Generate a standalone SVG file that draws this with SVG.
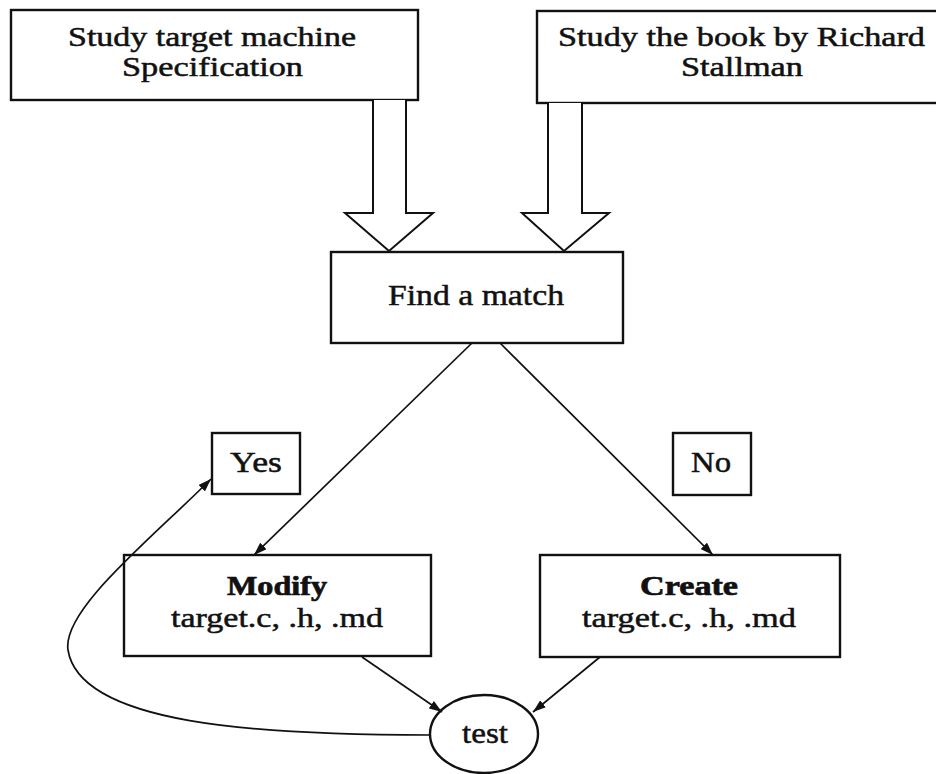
<svg xmlns="http://www.w3.org/2000/svg" width="936" height="774" viewBox="0 0 936 774">
  <style>
    .box { fill: #fff; stroke: #111; stroke-width: 2.4; }
    .fat { fill: #fff; stroke: #111; stroke-width: 2; stroke-linejoin: miter; }
    .lbl { font-family: "Liberation Serif", "Times New Roman", Times, serif; font-size: 30px; fill: #111; stroke: #111; stroke-width: 0.5; }
    .two { font-size: 27px; }
    .mid { font-size: 28px; }
    .b { font-weight: bold; stroke-width: 0.7; }
    .edge { fill: none; stroke: #111; stroke-width: 1.7; }
  </style>
  <defs>
    <marker id="tip" viewBox="0 0 13 9" refX="13" refY="4.5" markerWidth="13" markerHeight="9" markerUnits="userSpaceOnUse" orient="auto">
      <path d="M0,0 L13,4.5 L0,9 Z" fill="#111"/>
    </marker>
  </defs>
  <rect width="936" height="774" fill="#fff"/>

  <g id="spec">
    <rect class="box" x="11" y="10" width="407" height="90"/>
    <text class="lbl two" x="68" y="46" textLength="288" lengthAdjust="spacingAndGlyphs">Study target machine</text>
    <text class="lbl two" x="122" y="76" textLength="181" lengthAdjust="spacingAndGlyphs">Specification</text>
  </g>

  <g id="book">
    <rect class="box" x="537" y="11" width="410" height="92"/>
    <text class="lbl two" x="558" y="46" textLength="367" lengthAdjust="spacingAndGlyphs">Study the book by Richard</text>
    <text class="lbl two" x="681" y="76" textLength="122" lengthAdjust="spacingAndGlyphs">Stallman</text>
  </g>

  <g id="match">
    <rect class="box" x="331" y="252" width="292" height="91"/>
    <text class="lbl" x="388" y="305" textLength="176" lengthAdjust="spacingAndGlyphs">Find a match</text>
  </g>

  <g id="yes">
    <rect class="box" x="212" y="433" width="88" height="61"/>
    <text class="lbl" x="230" y="472" textLength="52" lengthAdjust="spacingAndGlyphs">Yes</text>
  </g>

  <g id="no">
    <rect class="box" x="673" y="433" width="78" height="62"/>
    <text class="lbl" x="691" y="472" textLength="40" lengthAdjust="spacingAndGlyphs">No</text>
  </g>

  <g id="modify">
    <rect class="box" x="124" y="555" width="307" height="101"/>
    <text class="lbl mid b" x="227" y="595" textLength="100" lengthAdjust="spacingAndGlyphs">Modify</text>
    <text class="lbl mid" x="171" y="627" textLength="212" lengthAdjust="spacingAndGlyphs">target.c, .h, .md</text>
  </g>

  <g id="create">
    <rect class="box" x="540" y="555" width="300" height="102"/>
    <text class="lbl mid b" x="640" y="595" textLength="98" lengthAdjust="spacingAndGlyphs">Create</text>
    <text class="lbl mid" x="582" y="627" textLength="214" lengthAdjust="spacingAndGlyphs">target.c, .h, .md</text>
  </g>

  <g id="test">
    <ellipse class="box" cx="484" cy="734" rx="54" ry="39"/>
    <text class="lbl" x="462" y="743" textLength="46" lengthAdjust="spacingAndGlyphs">test</text>
  </g>

  <g id="connectors">
    <!-- hollow block arrows into "Find a match" -->
    <path class="fat" d="M373,100 L373,213 L345,213 L389,251 L433,213 L406,213 L406,100"/>
    <path class="fat" d="M548,103 L548,213 L522,213 L564,251 L609,213 L582,213 L582,103"/>
    <!-- decision branches -->
    <line class="edge" x1="472" y1="343" x2="254" y2="555" marker-end="url(#tip)"/>
    <line class="edge" x1="500" y1="343" x2="713" y2="555" marker-end="url(#tip)"/>
    <!-- into test -->
    <line class="edge" x1="362" y1="657" x2="442" y2="712" marker-end="url(#tip)"/>
    <line class="edge" x1="600" y1="657" x2="533" y2="712" marker-end="url(#tip)"/>
    <!-- loop back from test -->
    <path class="edge" d="M430,735 C260,735 80,725 68,650 C62,610 150,540 211,479" marker-end="url(#tip)"/>
  </g>
</svg>
